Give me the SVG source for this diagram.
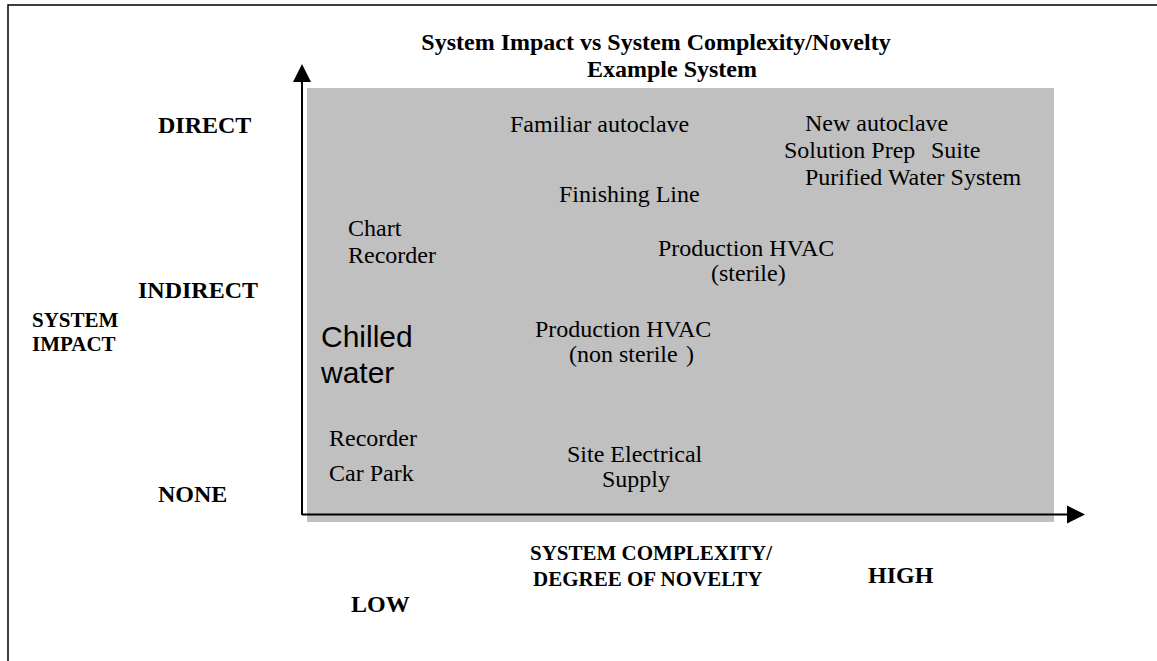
<svg xmlns="http://www.w3.org/2000/svg" width="1157" height="661" viewBox="0 0 1157 661">
<style>
.b{font-family:"Liberation Serif","Times New Roman",serif;font-weight:bold;font-size:24px;fill:#000}
.bs{font-family:"Liberation Serif","Times New Roman",serif;font-weight:bold;font-size:21px;fill:#000}
.r{font-family:"Liberation Serif","Times New Roman",serif;font-size:24px;fill:#000}
.big{font-family:"Liberation Sans",Arial,sans-serif;font-size:30px;fill:#000}
.ax{stroke:#000;stroke-width:2;fill:none}
</style>
<rect x="0" y="0" width="1157" height="661" fill="#fff"/>
<rect x="8" y="5" width="1170" height="680" fill="none" stroke="#000" stroke-width="1.5"/>
<g id="plot-area">
<rect x="307" y="88" width="747" height="434" fill="#c0c0c0"/>
</g>
<g id="connectors">
<path class="ax" d="M302,515 L302,82"/>
<polygon points="302,64 293,82 311,82" fill="#000"/>
<path class="ax" d="M302,514.5 L1068,514.5"/>
<polygon points="1085,514.5 1067,505.5 1067,523.5" fill="#000"/>
</g>
<g id="title">
<text class="b" x="656" y="50" text-anchor="middle">System Impact vs System Complexity/Novelty</text>
<text class="b" x="672" y="77" text-anchor="middle">Example System</text>
</g>
<g id="y-labels">
<text class="b" x="158" y="133">DIRECT</text>
<text class="b" x="138" y="298">INDIRECT</text>
<text class="bs" x="32" y="327">SYSTEM</text>
<text class="bs" x="32" y="351">IMPACT</text>
<text class="b" x="158" y="502">NONE</text>
</g>
<g id="x-labels">
<text class="bs" x="530" y="560">SYSTEM COMPLEXITY/</text>
<text class="bs" x="533" y="586">DEGREE OF NOVELTY</text>
<text class="b" x="868" y="583">HIGH</text>
<text class="b" x="351" y="612">LOW</text>
</g>
<g id="node-familiar-autoclave"><text class="r" x="510" y="132">Familiar autoclave</text></g>
<g id="node-new-autoclave"><text class="r" x="805" y="131">New autoclave</text></g>
<g id="node-solution-prep"><text class="r" x="784" y="158">Solution Prep<tspan x="931">Suite</tspan></text></g>
<g id="node-purified-water"><text class="r" x="805" y="185">Purified Water System</text></g>
<g id="node-finishing-line"><text class="r" x="559" y="202">Finishing Line</text></g>
<g id="node-chart-recorder"><text class="r" x="348" y="236">Chart</text><text class="r" x="348" y="263">Recorder</text></g>
<g id="node-hvac-sterile"><text class="r" x="658" y="256">Production HVAC</text><text class="r" x="711" y="281">(sterile)</text></g>
<g id="node-hvac-nonsterile"><text class="r" x="535" y="337">Production HVAC</text><text class="r" x="569" y="362">(non sterile<tspan x="686">)</tspan></text></g>
<g id="node-chilled-water"><text class="big" x="321" y="347">Chilled</text><text class="big" x="321" y="383">water</text></g>
<g id="node-recorder"><text class="r" x="329" y="446">Recorder</text></g>
<g id="node-car-park"><text class="r" x="329" y="481">Car Park</text></g>
<g id="node-site-electrical"><text class="r" x="567" y="462">Site Electrical</text><text class="r" x="602" y="487">Supply</text></g>
</svg>
